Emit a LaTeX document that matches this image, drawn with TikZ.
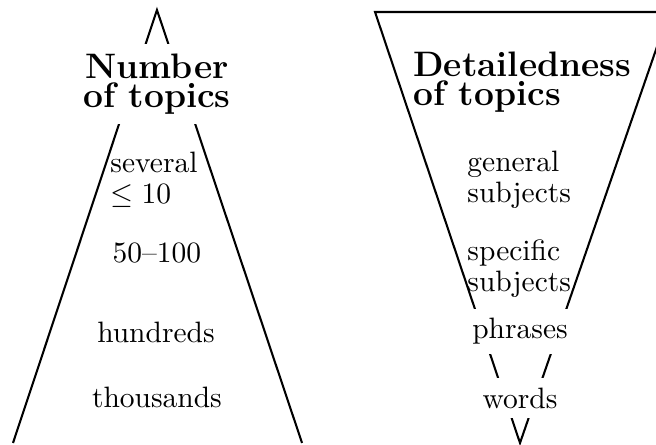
\documentclass[tikz,border=0pt]{standalone}
\usepackage{amsmath, amssymb}
\usepackage{tikz}
\usetikzlibrary{positioning}
\tikzset{
  headbox/.style={font=\fontsize{12}{9.8}\selectfont\bfseries, align=left},
  itembox/.style={font=\fontsize{10}{10.5}\selectfont, align=left},
  cutbox/.style={fill=white},
  side/.style={line width=0.7pt, black}
}

\begin{document}
\begin{tikzpicture}
    \useasboundingbox (0,0) rectangle (7.819,5.304);
    % corners of the two triangles
    \coordinate (numtop) at (1.871,5.185);
    \coordinate (numleft) at (0.155,0.024);
    \coordinate (numright) at (3.600,0.024);
    \coordinate (dettl) at (4.470,5.161);
    \coordinate (dettr) at (7.974,5.161);
    \coordinate (detbot) at (6.198,0.024);
    \draw[side] (numleft) -- (numtop) -- (numright);
    \draw[side] (detbot) -- (dettl) -- (dettr) -- cycle;
    % left: number of topics
    \node[headbox, cutbox, align=center] (numhead) at (1.871,4.30) {Number\\of topics};
    \node[itembox, anchor=west] (several) at (1.192,3.159) {several\\$\le 10$};
    \node[itembox] (fifty) at (1.871,2.294) {50--100};
    \node[itembox] (hundreds) at (1.859,1.347) {hundreds};
    \node[itembox] (thousands) at (1.871,0.572) {thousands};
    % right: detailedness of topics
    \node[headbox, anchor=west] (dethead) at (4.803,4.327) {Detailedness\\of topics};
    \node[itembox, anchor=west] (general) at (5.447,3.159) {general\\subjects};
    \node[itembox, anchor=west] (specific) at (5.447,2.098) {specific\\subjects};
    \node[itembox, cutbox] (phrases) at (6.198,1.353) {phrases};
    \node[itembox, cutbox] (words) at (6.198,0.560) {words};
\end{tikzpicture}
\end{document}
